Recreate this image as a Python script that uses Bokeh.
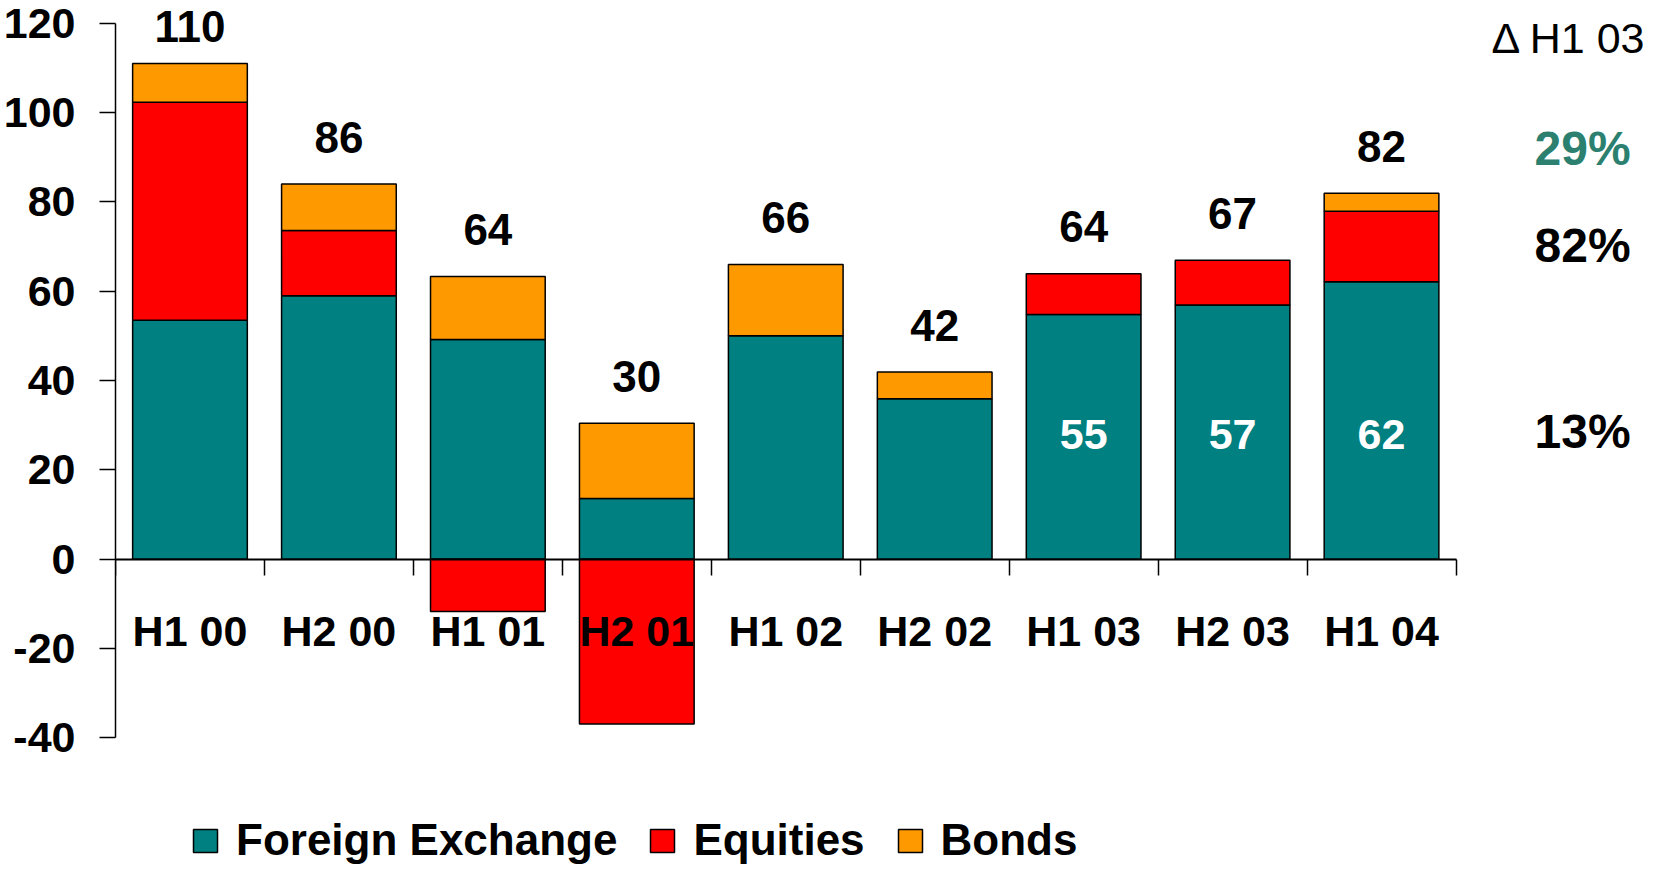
import numpy as np
from bokeh.plotting import figure
from bokeh.models import Range1d, LinearAxis, FixedTicker, Legend, LegendItem
from bokeh.core.properties import value
from bokeh.embed import file_html
from bokeh.resources import INLINE

# ---------------- data ----------------
categories = ["H1 00", "H2 00", "H1 01", "H2 01", "H1 02", "H2 02", "H1 03", "H2 03", "H1 04"]
fx = [53.5, 59.0, 49.2, 13.6, 50.0, 35.9, 54.8, 56.9, 62.1]
equities = [48.8, 14.6, -11.7, -36.9, 0.0, 0.0, 9.1, 10.0, 15.8]
bonds = [8.7, 10.4, 14.1, 16.8, 16.0, 6.0, 0.0, 0.0, 4.0]
total_labels = ["110", "86", "64", "30", "66", "42", "64", "67", "82"]
fx_labels = ["", "", "", "", "", "", "55", "57", "62"]
y_ticks = [-40, -20, 0, 20, 40, 60, 80, 100, 120]
delta_header = "\u0394 H1 03"
delta_labels = ["29%", "82%", "13%"]
delta_colors = ["#2B8070", "black", "black"]
delta_y = [88.2, 66.5, 24.8]          # layout positions of the side notes
series_names = ["Foreign Exchange", "Equities", "Bonds"]

# ---------------- styles ----------------
FONT = "Liberation Sans"
TEAL, RED, ORANGE = "#008080", "#FF0000", "#FF9900"
BAR_W = 0.77
TXT_DY = -17   # screen offset that puts the alphabetic baseline where wanted

n = len(categories)
xc = np.arange(n) + 0.5
fx_a, eq_a, bd_a = np.array(fx), np.array(equities), np.array(bonds)
eq_bottom = np.where(eq_a >= 0, fx_a, eq_a)
eq_top = np.where(eq_a >= 0, fx_a + eq_a, 0.0)
bd_bottom = fx_a + np.maximum(eq_a, 0)
bd_top = bd_bottom + bd_a
tops = np.maximum(bd_top, np.maximum(fx_a, eq_top))
label_y = np.minimum(tops + 6.7, 115.5)

p = figure(width=1646, height=866, output_backend="svg", toolbar_location=None,
           x_range=Range1d(0, 10.279), y_range=Range1d(-68.82, 124.86),
           x_axis_location=None, y_axis_location=None,
           min_border_left=111, min_border_right=0, min_border_top=1, min_border_bottom=0,
           outline_line_color=None)
p.grid.grid_line_color = None

# ---------------- bars ----------------
m_fx = fx_a != 0
r_fx = p.vbar(x=xc[m_fx], bottom=0, top=fx_a[m_fx], width=BAR_W,
              fill_color=TEAL, line_color="black", line_width=1.5)
m_eq = eq_a != 0
r_eq = p.vbar(x=xc[m_eq], bottom=eq_bottom[m_eq], top=eq_top[m_eq], width=BAR_W,
              fill_color=RED, line_color="black", line_width=1.5)
m_bd = bd_a != 0
r_bd = p.vbar(x=xc[m_bd], bottom=bd_bottom[m_bd], top=bd_top[m_bd], width=BAR_W,
              fill_color=ORANGE, line_color="black", line_width=1.5)

# ---------------- axes ----------------
yaxis = LinearAxis(ticker=FixedTicker(ticks=y_ticks), bounds=(-40, 120),
                   major_tick_in=0, major_tick_out=16, minor_tick_in=0, minor_tick_out=0,
                   axis_line_width=1.5, major_tick_line_width=1.5,
                   major_label_overrides={t: str(t) for t in y_ticks},
                   major_label_text_font=FONT, major_label_text_font_style="bold",
                   major_label_text_font_size="43px", major_label_standoff=24,
                   major_label_text_color="black")
p.add_layout(yaxis, "left")

xaxis_ticks = LinearAxis(ticker=FixedTicker(ticks=list(range(n + 1))), bounds=(0, n),
                         fixed_location=0, major_tick_in=0, major_tick_out=16,
                         minor_tick_in=0, minor_tick_out=0,
                         axis_line_width=2, major_tick_line_width=1.5,
                         major_label_overrides={t: "" for t in range(n + 1)})
p.add_layout(xaxis_ticks, "below")

xaxis_labels = LinearAxis(ticker=FixedTicker(ticks=[float(v) for v in xc]),
                          fixed_location=0, axis_line_color=None,
                          major_tick_line_color=None, major_tick_in=0, major_tick_out=0,
                          minor_tick_in=0, minor_tick_out=0,
                          major_label_overrides={float(v): c for v, c in zip(xc, categories)},
                          major_label_text_font=FONT, major_label_text_font_style="bold",
                          major_label_text_font_size="43px", major_label_standoff=48,
                          major_label_text_color="black")
p.add_layout(xaxis_labels, "below")

# ---------------- labels ----------------
p.text(x=xc, y=label_y, text=total_labels, text_align="center", text_baseline="alphabetic",
       y_offset=TXT_DY,
       text_font=value(FONT), text_font_style="bold", text_font_size="44px", text_color="black")
p.text(x=xc, y=24.0, text=fx_labels, text_align="center", text_baseline="alphabetic",
       y_offset=TXT_DY,
       text_font=value(FONT), text_font_style="bold", text_font_size="43px", text_color="white")

side_x = n + 0.85
p.text(x=[n + 0.76], y=[112.8], text=[delta_header], text_align="center", text_baseline="alphabetic",
       y_offset=TXT_DY,
       text_font=value(FONT), text_font_style="normal", text_font_size="43px", text_color="black")
p.text(x=[side_x] * len(delta_labels), y=delta_y, text=delta_labels, text_align="center",
       text_baseline="alphabetic", y_offset=TXT_DY, text_font=value(FONT), text_font_style="bold",
       text_font_size="48px", text_color=delta_colors)

# ---------------- legend ----------------
legend = Legend(items=[LegendItem(label=series_names[0], renderers=[r_fx]),
                       LegendItem(label=series_names[1], renderers=[r_eq]),
                       LegendItem(label=series_names[2], renderers=[r_bd])],
                orientation="horizontal", location=(75, 1),
                glyph_width=30, glyph_height=29, label_standoff=16, spacing=30,
                padding=0, margin=0, border_line_color=None, background_fill_alpha=0,
                label_text_font=FONT, label_text_font_style="bold",
                label_text_font_size="44px", label_text_color="black")
p.add_layout(legend, "center")

open("out.html", "w").write(file_html(p, INLINE))
